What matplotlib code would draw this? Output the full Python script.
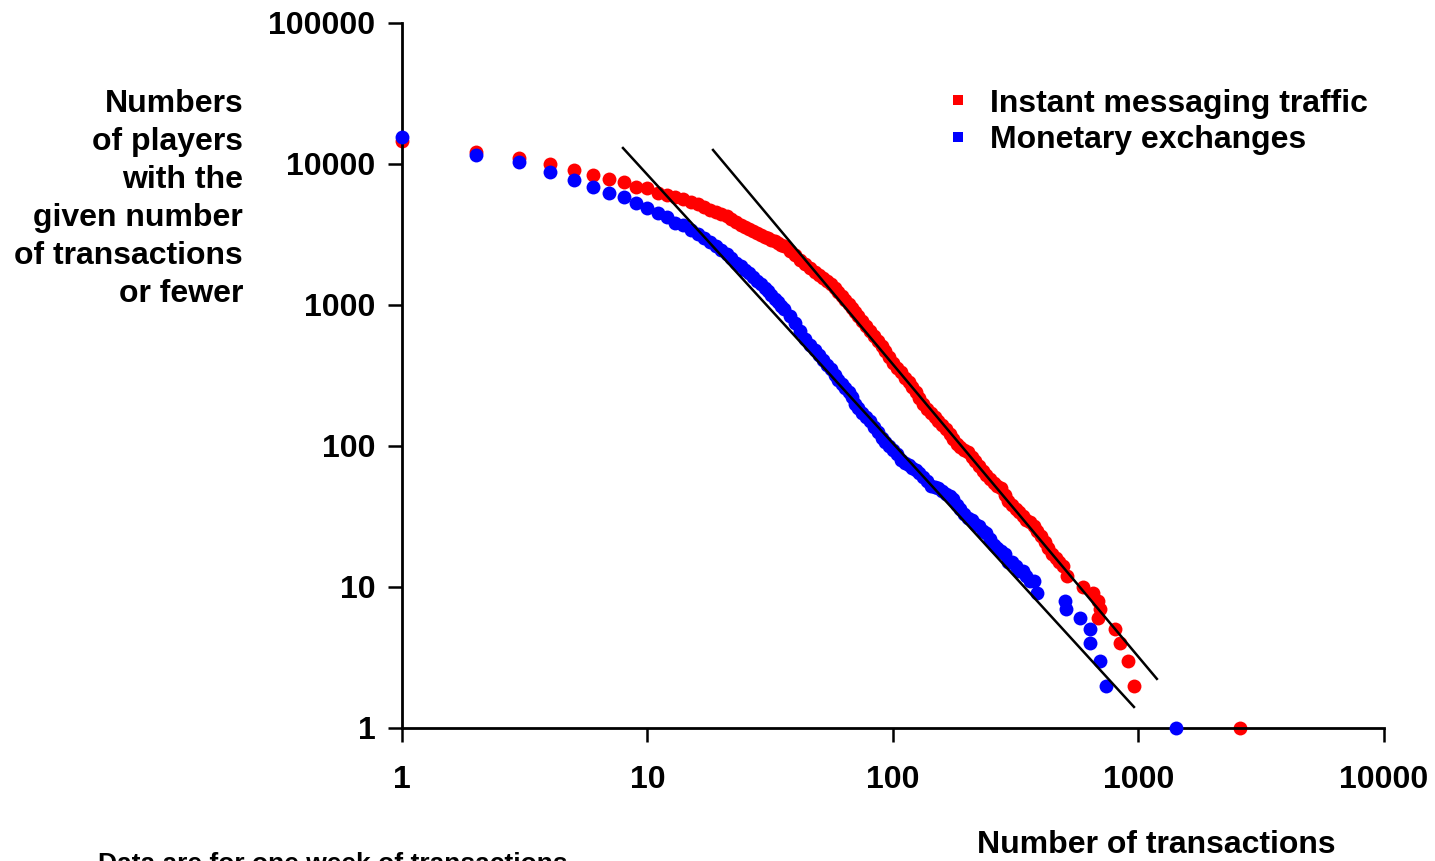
#!/usr/bin/env python3
"""Cumulative transaction counts per player, log-log, with power-law guides."""

import matplotlib.pyplot as plt
from matplotlib.lines import Line2D

RED = "#FF0000"
BLUE = "#0000FF"
INK = "#000000"

# Instant messaging traffic
im_transactions = [
    1, 2, 3, 4, 5, 6, 7, 8, 9, 10, 11, 12, 13, 14, 15, 16, 17, 18, 19, 20,
    21, 22, 23, 24, 25, 26, 27, 28, 29, 30, 31, 32, 33, 34, 35, 36, 38, 40,
    42, 44, 46, 48, 50, 52, 54, 56, 58, 60, 62, 64, 66, 68, 70, 72, 75, 78,
    81, 84, 87, 90, 93, 96, 100, 104, 108, 112, 116, 120, 124, 128, 133,
    138, 143, 148, 153, 158, 164, 170, 176, 182, 188, 195, 202, 209, 216,
    224, 232, 240, 248, 257, 266, 275, 285, 295, 305, 316, 327, 338, 350,
    362, 375, 388, 402, 416, 430, 445, 460, 476, 492, 511,
    594, 653, 684, 697, 684, 802, 841, 906, 959, 2590,
]
im_players = [
    14600, 12200, 11100, 10000, 9060, 8400, 7870, 7450, 6900, 6720, 6190,
    6030, 5860, 5620, 5400, 5200, 4950, 4750, 4550, 4400, 4250, 4100, 3900,
    3700, 3580, 3450, 3350, 3250, 3150, 3050, 2980, 2900, 2820, 2760, 2680,
    2600, 2420, 2250, 2100, 1950, 1830, 1720, 1630, 1550, 1470, 1400, 1310,
    1230, 1150, 1080, 1010, 950, 890, 840, 770, 710, 650, 600, 555, 510,
    470, 430, 390, 360, 335, 305, 285, 262, 240, 220, 198, 182, 170, 160,
    150, 142, 133, 122, 112, 104, 99, 94, 90, 84, 78, 72, 66, 62, 58, 55,
    52, 50, 45, 41, 38, 36, 34, 32, 30, 29, 27, 25, 23, 21, 19, 17, 16, 15,
    14, 12,
    10, 9, 8, 7, 6, 5, 4, 3, 2, 1,
]

# Monetary exchanges
money_transactions = [
    1, 2, 3, 4, 5, 6, 7, 8, 9, 10, 11, 12, 13, 14, 15, 16, 17, 18, 19, 20,
    21, 22, 23, 24, 25, 26, 27, 28, 29, 30, 31, 32, 33, 34, 35, 36, 38, 40,
    42, 44, 46, 48, 50, 52, 54, 56, 58, 60, 62, 64, 66, 68, 70, 72, 75, 78,
    81, 84, 87, 90, 93, 96, 100, 104, 108, 112, 116, 120, 124, 128, 133,
    138, 143, 148, 153, 158, 164, 170, 176, 182, 188, 195, 202, 209, 216,
    224, 232, 240, 248, 257, 266, 275, 285, 295, 305, 316, 327, 338, 350,
    362, 375, 386, 502, 507, 578, 634, 634, 697, 738, 1422,
]
money_players = [
    15600, 11600, 10300, 8730, 7660, 6900, 6260, 5860, 5320, 4850, 4520,
    4230, 3840, 3690, 3400, 3200, 2980, 2800, 2620, 2450, 2300, 2150, 2000,
    1880, 1780, 1680, 1580, 1490, 1410, 1330, 1250, 1180, 1110, 1050, 990,
    930, 840, 740, 650, 570, 520, 480, 440, 405, 375, 350, 320, 295, 275,
    258, 242, 222, 200, 185, 170, 160, 150, 137, 126, 114, 106, 100, 94,
    88, 80, 76, 73, 70, 68, 64, 60, 56, 52, 51, 50, 48, 46, 44, 42, 38, 36,
    33, 31, 30, 28, 27, 25, 24, 22, 20, 19, 18, 17, 15, 15, 14, 13, 13, 12,
    11, 11, 9, 8, 7, 6, 5, 4, 3, 2, 1,
]

# Power-law guide lines (endpoints)
im_fit_x = [18.5, 1189]
im_fit_y = [12570, 2.23]
money_fit_x = [7.95, 959]
money_fit_y = [12980, 1.41]

x_ticks = [1, 10, 100, 1000, 10000]
y_ticks = [1, 10, 100, 1000, 10000, 100000]

plt.rcParams.update({
    "font.family": ["Liberation Sans", "DejaVu Sans"],
    "font.weight": "bold",
})

fig = plt.figure(figsize=(14.35, 8.61), dpi=100)
ax = fig.add_axes([0.2801, 0.1545, 0.6843, 0.8188])

ax.set_xscale("log")
ax.set_yscale("log")
ax.set_xlim(1, 10000)
ax.set_ylim(1, 100000)

ax.plot(im_transactions, im_players, "o", color=RED, markersize=10,
        markeredgewidth=0, clip_on=False, zorder=2)
ax.plot(money_transactions, money_players, "o", color=BLUE, markersize=10,
        markeredgewidth=0, clip_on=False, zorder=3)

ax.plot(im_fit_x, im_fit_y, color=INK, linewidth=1.8, zorder=4)
ax.plot(money_fit_x, money_fit_y, color=INK, linewidth=1.8, zorder=4)

ax.set_xticks(x_ticks)
ax.set_xticklabels([str(v) for v in x_ticks])
ax.set_yticks(y_ticks)
ax.set_yticklabels([str(v) for v in y_ticks])
ax.minorticks_off()
ax.tick_params(axis="both", direction="out", length=10, width=1.8,
               labelsize=23, colors=INK)
ax.tick_params(axis="x", pad=17)
ax.tick_params(axis="y", pad=9)
for label in ax.get_xticklabels() + ax.get_yticklabels():
    label.set_fontweight("bold")

ax.spines[["top", "right"]].set_visible(False)
for side in ("left", "bottom"):
    ax.spines[side].set_linewidth(2)
    ax.spines[side].set_color(INK)

handles = [
    Line2D([], [], linestyle="none", marker="s", markersize=7,
           markeredgewidth=0, color=RED, label="Instant messaging traffic"),
    Line2D([], [], linestyle="none", marker="s", markersize=7,
           markeredgewidth=0, color=BLUE, label="Monetary exchanges"),
]
fig.legend(handles=handles, loc="upper left", bbox_to_anchor=(0.652, 0.912),
           frameon=False, handlelength=0.6, handletextpad=0.7,
           labelspacing=0.2, borderaxespad=0, prop={"weight": "bold", "size": 23})

fig.text(0.1695, 0.897,
         "Numbers\nof players\nwith the\ngiven number\nof transactions\nor fewer",
         ha="right", va="top", fontsize=23, fontweight="bold",
         linespacing=1.35)
fig.text(0.806, 0.019, "Number of transactions", ha="center", va="center",
         fontsize=23, fontweight="bold")
fig.text(0.068, 0.011, "Data are for one week of transactions", ha="left",
         va="top", fontsize=19, fontweight="bold")

fig.savefig("out.png", dpi=100)
